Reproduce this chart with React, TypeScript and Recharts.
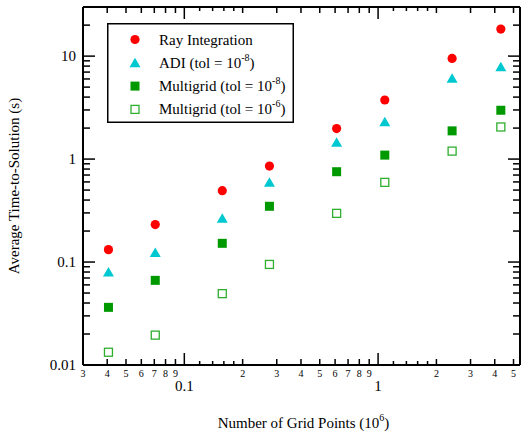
import { ScatterChart, Scatter, XAxis, YAxis, Legend } from "recharts";

// grid sizes in millions of points
const gridPoints = [0.0406, 0.0708, 0.157, 0.275, 0.611, 1.083, 2.41, 4.3];
const rayTimes = [0.132, 0.231, 0.493, 0.855, 1.98, 3.75, 9.5, 18.3];
const adiTimes = [0.08, 0.124, 0.266, 0.594, 1.46, 2.31, 6.08, 7.88];
const mg8Times = [0.0363, 0.0664, 0.152, 0.348, 0.754, 1.093, 1.88, 2.98];
const mg6Times = [0.0133, 0.0195, 0.0493, 0.0948, 0.297, 0.594, 1.195, 2.05];

const xTicks = [
  0.03, 0.04, 0.05, 0.06, 0.07, 0.08, 0.09, 0.1, 0.12, 0.14, 0.16, 0.18,
  0.2, 0.3, 0.4, 0.5, 0.6, 0.7, 0.8, 0.9, 1, 1.2, 1.4, 1.6, 1.8, 2, 3, 4, 5,
];
const xTickLabels = [
  "3", "4", "5", "6", "7", "8", "9", "0.1", "", "", "", "",
  "2", "3", "4", "5", "6", "7", "8", "9", "1", "", "", "", "", "2", "3", "4", "5",
];
const yTicks = [
  0.01, 0.02, 0.03, 0.04, 0.05, 0.06, 0.07, 0.08, 0.09,
  0.1, 0.2, 0.3, 0.4, 0.5, 0.6, 0.7, 0.8, 0.9,
  1, 2, 3, 4, 5, 6, 7, 8, 9, 10, 20, 30,
];
const yTickLabels = ["0.01", "0.1", "1", "10"];

const FONT = "'Liberation Serif', 'Times New Roman', serif";
const RED = "#ff0000";
const CYAN = "#00c8d0";
const GREEN = "#009a00";
const LIGHT_GREEN = "#2fae2f";

const isDecade = (v: number) => {
  const l = Math.log10(v);
  return Math.abs(l - Math.round(l)) < 1e-6;
};

const toPoints = (ys: number[]) => gridPoints.map((x, i) => ({ x, y: ys[i] }));

// eslint-disable-next-line @typescript-eslint/no-explicit-any
function Marker({ kind, cx, cy }: any) {
  if (kind === "circle") return <circle cx={cx} cy={cy} r={4.6} fill={RED} />;
  if (kind === "triangle")
    return <polygon points={`${cx - 5.5},${cy + 4.5} ${cx + 5.5},${cy + 4.5} ${cx},${cy - 5}`} fill={CYAN} />;
  if (kind === "square") return <rect x={cx - 4.5} y={cy - 4.5} width={9} height={9} fill={GREEN} />;
  return <rect x={cx - 4} y={cy - 4} width={8} height={8} fill="#fff" stroke={LIGHT_GREEN} strokeWidth={1.3} />;
}

const series = [
  { name: "Ray Integration", sup: "", kind: "circle", data: rayTimes },
  { name: "ADI (tol = 10", sup: "-8", kind: "triangle", data: adiTimes },
  { name: "Multigrid (tol = 10", sup: "-8", kind: "square", data: mg8Times },
  { name: "Multigrid (tol = 10", sup: "-6", kind: "open", data: mg6Times },
];

// eslint-disable-next-line @typescript-eslint/no-explicit-any
function BottomTick({ x, y, payload }: any) {
  const v = payload.value;
  const label = xTickLabels[xTicks.indexOf(v)];
  const major = isDecade(v);
  const len = major ? 12 : label ? 6 : 4;
  return (
    <g>
      <line x1={x} x2={x} y1={y} y2={y - len} stroke="#000" strokeWidth={1.5} />
      {label && (
        <text x={x} y={major ? y + 26 : y + 12} textAnchor="middle" fontSize={major ? 15 : 10} fontFamily={FONT} fill="#000">
          {label}
        </text>
      )}
    </g>
  );
}

// eslint-disable-next-line @typescript-eslint/no-explicit-any
function TopTick({ x, y, payload }: any) {
  const v = payload.value;
  const label = xTickLabels[xTicks.indexOf(v)];
  const len = isDecade(v) ? 12 : label ? 6 : 4;
  return <line x1={x} x2={x} y1={y} y2={y + len} stroke="#000" strokeWidth={1.5} />;
}

// eslint-disable-next-line @typescript-eslint/no-explicit-any
function LeftTick({ x, y, payload }: any) {
  const major = isDecade(payload.value);
  const idx = Math.round(Math.log10(payload.value)) + 2;
  return (
    <g>
      <line x1={x} x2={x + (major ? 12 : 7)} y1={y} y2={y} stroke="#000" strokeWidth={1.5} />
      {major && (
        <text x={x - 7} y={y + 5} textAnchor="end" fontSize={15} fontFamily={FONT} fill="#000">
          {yTickLabels[idx]}
        </text>
      )}
    </g>
  );
}

// eslint-disable-next-line @typescript-eslint/no-explicit-any
function RightTick({ x, y, payload }: any) {
  const major = isDecade(payload.value);
  return <line x1={x} x2={x - (major ? 12 : 7)} y1={y} y2={y} stroke="#000" strokeWidth={1.5} />;
}

function LegendBox() {
  return (
    <svg width={187} height={100} style={{ display: "block" }}>
      <rect x={0.75} y={0.75} width={185.5} height={98.5} fill="#fff" stroke="#000" strokeWidth={1.5} />
      {series.map((s, i) => {
        const cy = 16.5 + i * 23.3;
        return (
          <g key={i}>
            <Marker kind={s.kind} cx={28} cy={cy} />
            <text x={52} y={cy + 5} fontSize={15} fontFamily={FONT} fill="#000">
              {s.name}
              {s.sup && (
                <>
                  <tspan dy={-7} fontSize={10}>{s.sup}</tspan>
                  <tspan dy={7}>)</tspan>
                </>
              )}
            </text>
          </g>
        );
      })}
    </svg>
  );
}

export default function App() {
  return (
    <div style={{ position: "absolute", left: 0, top: 0, background: "#fff" }}>
      <ScatterChart width={522} height={433} margin={{ top: 0, right: 0, bottom: 0, left: 0 }}>
        <XAxis
          xAxisId="bottom"
          dataKey="x"
          type="number"
          scale="log"
          domain={[0.03, 5.4]}
          allowDataOverflow
          ticks={xTicks}
          interval={0}
          height={68}
          tickSize={0}
          tickMargin={0}
          tick={<BottomTick />}
          axisLine={{ stroke: "#000", strokeWidth: 2 }}
          label={{
            // eslint-disable-next-line @typescript-eslint/no-explicit-any
            content: ({ viewBox }: any) => (
              <text x={viewBox.x + viewBox.width / 2 + 2} y={428} textAnchor="middle" fontSize={15} fontFamily={FONT} fill="#000">
                Number of Grid Points (10
                <tspan dy={-7} fontSize={10}>6</tspan>
                <tspan dy={7}>)</tspan>
              </text>
            ),
          }}
        />
        <XAxis
          xAxisId="top"
          orientation="top"
          dataKey="x"
          type="number"
          scale="log"
          domain={[0.03, 5.4]}
          allowDataOverflow
          ticks={xTicks}
          interval={0}
          height={7}
          tickSize={0}
          tickMargin={0}
          tick={<TopTick />}
          axisLine={{ stroke: "#000", strokeWidth: 2 }}
        />
        <YAxis
          yAxisId="left"
          dataKey="y"
          type="number"
          scale="log"
          domain={[0.01, 30]}
          allowDataOverflow
          ticks={yTicks}
          interval={0}
          width={83}
          tickSize={0}
          tickMargin={0}
          tick={<LeftTick />}
          axisLine={{ stroke: "#000", strokeWidth: 2 }}
          label={{
            // eslint-disable-next-line @typescript-eslint/no-explicit-any
            content: ({ viewBox }: any) => {
              const cy = viewBox.y + viewBox.height / 2;
              return (
                <text x={19} y={cy} transform={`rotate(-90, 19, ${cy})`} textAnchor="middle" fontSize={15} fontFamily={FONT} fill="#000">
                  Average Time-to-Solution (s)
                </text>
              );
            },
          }}
        />
        <YAxis
          yAxisId="right"
          orientation="right"
          dataKey="y"
          type="number"
          scale="log"
          domain={[0.01, 30]}
          allowDataOverflow
          ticks={yTicks}
          interval={0}
          width={2}
          tickSize={0}
          tickMargin={0}
          tick={<RightTick />}
          axisLine={{ stroke: "#000", strokeWidth: 2 }}
        />
        {series.map((s) => (
          <Scatter
            key={s.kind}
            name={s.name}
            xAxisId="bottom"
            yAxisId="left"
            data={toPoints(s.data)}
            isAnimationActive={false}
            // eslint-disable-next-line @typescript-eslint/no-explicit-any
            shape={(p: any) => <Marker kind={s.kind} cx={p.cx} cy={p.cy} />}
          />
        ))}
        <Legend
          layout="vertical"
          align="center"
          verticalAlign="middle"
          content={() => <LegendBox />}
          wrapperStyle={{ left: 107, top: 23, width: 187, height: 100 }}
        />
      </ScatterChart>
    </div>
  );
}
